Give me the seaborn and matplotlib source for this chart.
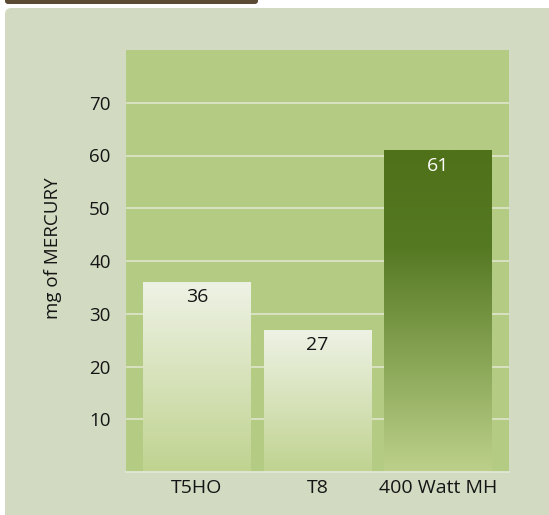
import numpy as np
import pandas as pd
import matplotlib
matplotlib.use("Agg")
import matplotlib.pyplot as plt
import seaborn as sns
from matplotlib.colors import LinearSegmentedColormap
from matplotlib.patches import FancyBboxPatch

# data
lamps = ["T5HO", "T8", "400 Watt MH"]
mercury_mg = [36, 27, 61]
yticks = [10, 20, 30, 40, 50, 60, 70]

df = pd.DataFrame({"lamp": lamps, "mercury": mercury_mg})

sns.set_theme(style="white")
plt.rcParams["font.family"] = ["Open Sans", "DejaVu Sans"]

fig = plt.figure(figsize=(5.49, 5.15), dpi=100)
fig.patch.set_facecolor("white")

# light panel behind the chart and the dark tab on top
panel = FancyBboxPatch((5 / 549, -0.1), 1.2, (515 - 8) / 515 + 0.1,
                       boxstyle="round,pad=0,rounding_size=0.012",
                       transform=fig.transFigure, facecolor="#d2dbc2",
                       edgecolor="none", zorder=-5)
fig.patches.append(panel)
tab = FancyBboxPatch((5 / 549, 1 - 4 / 515), 253 / 549, 0.05,
                     boxstyle="round,pad=0,rounding_size=0.006",
                     transform=fig.transFigure, facecolor="#5b4b34",
                     edgecolor="none", zorder=-5)
fig.patches.append(tab)

ax = fig.add_axes([126 / 549, 43 / 515, 383 / 549, 422 / 515])
ax.set_zorder(1)
ax.set_facecolor("#b4cb83")

sns.barplot(data=df, x="lamp", y="mercury", ax=ax, width=0.89,
            color="#c0d390", saturation=1, linewidth=0, edgecolor="none",
            zorder=2)

ax.set_yticks(yticks)
for t in yticks:
    ax.axhline(t, color="#e2e9d3", lw=1.1, zorder=1)

# gradient fills
light = LinearSegmentedColormap.from_list("light", ["#c0d390", "#eef2e5"])
dark = LinearSegmentedColormap.from_list(
    "dark", [(0, "#bdd08b"), (0.3, "#8fab5c"), (0.7, "#557823"), (1, "#4f7119")])
cmaps = [light, light, dark]
grad = np.linspace(0, 1, 256).reshape(-1, 1)
for patch, cm in zip(ax.patches, cmaps):
    x0, y0 = patch.get_x(), patch.get_y()
    w, h = patch.get_width(), patch.get_height()
    im = ax.imshow(grad, cmap=cm, aspect="auto", origin="lower",
                   extent=[x0, x0 + w, y0, y0 + h], zorder=3)
    im.set_clip_path(patch)
ax.set_xlim(-0.59, 2.59)
ax.set_ylim(0, 80)

# value labels inside the bars
for i, v in enumerate(mercury_mg):
    col = "white" if i == 2 else "#151515"
    ax.annotate(str(v), (i, v), xytext=(0, -11), textcoords="offset points",
                ha="center", va="center", fontsize=14, color=col, zorder=5)

for s in ["top", "left", "right"]:
    ax.spines[s].set_visible(False)
ax.spines["bottom"].set_color("#e4e9da")
ax.spines["bottom"].set_linewidth(1.2)
ax.spines["bottom"].set_zorder(4)

ax.tick_params(axis="both", length=0, colors="#151515")
ax.tick_params(axis="y", labelsize=13.5, pad=11)
ax.tick_params(axis="x", labelsize=14, pad=5)
ax.set_xlabel("")
ax.set_ylabel("mg of MERCURY", fontsize=13.5, color="#151515")
ax.yaxis.set_label_coords(-0.167, 0.53)

fig.savefig("out.png", dpi=100, facecolor=fig.get_facecolor())
